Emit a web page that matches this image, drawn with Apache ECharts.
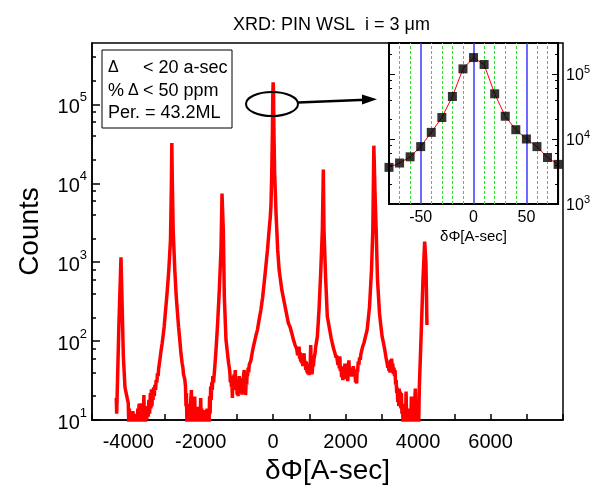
<!DOCTYPE html>
<html>
<head>
<meta charset="utf-8">
<title>XRD: PIN WSL</title>
<script src="https://cdn.jsdelivr.net/npm/echarts@6/dist/echarts.min.js"></script>
<style>
  html, body { margin: 0; padding: 0; background: #fff; }
  #chart { width: 593px; height: 495px; }
</style>
</head>
<body>
<div id="chart"></div>
<script>
// full scan [dPhi, counts]; values under 10 sit below the axis and get clipped
const scan = [
  [-4330, 19], [-4318, 12], [-4260, 147], [-4200, 1150], [-4163, 228], [-4135, 64], [-4090, 26], [-4040, 20],
  [-4000, 16.5], [-3985, 9], [-3970, 14], [-3955, 8], [-3940, 12], [-3925, 8], [-3905, 11], [-3890, 8],
  [-3870, 13], [-3850, 8], [-3830, 10], [-3815, 8], [-3800, 9.5], [-3785, 8], [-3770, 12], [-3750, 8],
  [-3735, 14], [-3720, 9], [-3700, 16], [-3680, 10], [-3665, 16.3], [-3650, 8], [-3632, 12], [-3615, 8],
  [-3600, 14], [-3585, 9], [-3568, 20.7], [-3555, 10], [-3540, 15], [-3522, 9], [-3505, 14], [-3490, 10],
  [-3470, 15], [-3448, 11], [-3430, 18], [-3410, 12], [-3390, 22], [-3375, 14], [-3360, 24.5], [-3345, 15],
  [-3330, 22], [-3315, 18], [-3300, 26], [-3280, 20], [-3265, 28], [-3245, 24], [-3230, 32], [-3210, 30],
  [-3192, 39], [-3175, 36], [-3160, 45], [-3145, 44], [-3128, 57], [-3095, 75], [-3063, 94], [-3030, 125],
  [-3008, 152], [-2975, 230], [-2944, 333], [-2910, 520], [-2880, 800], [-2834, 1900], [-2810, 9000],
  [-2797, 32400], [-2785, 12000], [-2760, 2600], [-2715, 800], [-2680, 400], [-2641, 228], [-2610, 150],
  [-2577, 104], [-2545, 70], [-2512, 52.5], [-2490, 46], [-2475, 38], [-2458, 40], [-2440, 33],
  [-2420, 27], [-2405, 15], [-2394, 22], [-2380, 9], [-2365, 16], [-2347, 8], [-2332, 14], [-2318, 8],
  [-2305, 12], [-2290, 8], [-2275, 18], [-2256, 24], [-2242, 9], [-2230, 15], [-2215, 8], [-2200, 17],
  [-2185, 9], [-2165, 19.8], [-2150, 8], [-2130, 12], [-2115, 8], [-2100, 13], [-2085, 8], [-2072, 14.7],
  [-2055, 8], [-2040, 11], [-2020, 8], [-2000, 19], [-1985, 10], [-1970, 14], [-1950, 8], [-1935, 12],
  [-1915, 8], [-1898, 13.4], [-1880, 8], [-1860, 10], [-1845, 8], [-1825, 14], [-1810, 8], [-1790, 12],
  [-1770, 8], [-1755, 20], [-1740, 12], [-1725, 26.5], [-1710, 18], [-1695, 30], [-1680, 24], [-1665, 36],
  [-1645, 30], [-1620, 42], [-1600, 55], [-1577, 77], [-1532, 170], [-1486, 445], [-1440, 1430],
  [-1412, 7400], [-1376, 2600], [-1348, 370], [-1302, 104], [-1260, 70], [-1229, 52], [-1210, 46],
  [-1195, 40], [-1180, 30], [-1164, 36], [-1150, 26], [-1140, 30], [-1125, 19], [-1110, 34], [-1095, 24],
  [-1080, 38], [-1065, 28], [-1045, 43], [-1030, 26], [-1010, 32], [-995, 21], [-981, 26], [-968, 20],
  [-955, 33], [-945, 24], [-935, 36], [-920, 25], [-900, 32], [-885, 22], [-870, 28], [-861, 21],
  [-845, 34], [-830, 26], [-815, 38], [-798, 43], [-785, 27], [-770, 30], [-760, 20.7], [-745, 32],
  [-730, 28], [-718, 40], [-706, 36], [-690, 46], [-675, 40], [-660, 50], [-640, 48], [-614, 57],
  [-595, 58], [-570, 75], [-550, 72], [-523, 94], [-500, 98], [-480, 115], [-432, 140], [-385, 190],
  [-338, 250], [-290, 360], [-248, 545], [-200, 900], [-157, 1430], [-110, 2600],
  [-80, 3700], [-60, 5300], [-40, 12600], [-20, 45000], [-10, 130000], [0, 190000], [10, 150000],
  [20, 50000], [40, 14000], [60, 7600], [80, 4100], [100, 2600], [125, 1430], [165, 800], [239, 445],
  [330, 274], [421, 168], [470, 150], [514, 126], [560, 104], [605, 89], [650, 80], [675, 66],
  [697, 70], [715, 85], [730, 60], [745, 72], [760, 55], [775, 66], [789, 52], [805, 62],
  [820, 48], [835, 64], [853, 70], [868, 50], [884, 56], [899, 43], [915, 55], [930, 40],
  [945, 52], [960, 38], [975, 46], [990, 37], [1005, 48], [1020, 45], [1037, 89], [1048, 50],
  [1060, 45], [1070, 38], [1082, 42], [1095, 56], [1110, 48], [1128, 60], [1145, 62], [1160, 72],
  [1174, 85], [1200, 100], [1220, 114], [1266, 250], [1312, 730], [1358, 2600],
  [1385, 14900], [1403, 2600], [1450, 600], [1495, 205], [1560, 140], [1600, 110], [1633, 94],
  [1670, 80], [1706, 70], [1735, 62], [1750, 66],
  [1770, 57], [1790, 50], [1810, 60], [1825, 45], [1840, 64], [1855, 42], [1870, 48], [1890, 35],
  [1908, 40], [1925, 32], [1940, 48], [1960, 38], [1981, 52], [1995, 40], [2010, 45], [2025, 33],
  [2045, 38], [2060, 31], [2075, 50], [2091, 57], [2105, 42], [2120, 46], [2135, 36], [2150, 42],
  [2165, 35.5], [2180, 44], [2195, 38], [2212, 48], [2229, 42], [2245, 36], [2260, 40], [2275, 30],
  [2292, 34], [2305, 29], [2318, 44], [2330, 40], [2348, 55], [2366, 50], [2385, 62], [2405, 58],
  [2420, 68], [2440, 70], [2470, 85], [2504, 94], [2550, 115], [2595, 140], [2660, 274], [2715, 800],
  [2751, 2600], [2779, 30000], [2810, 8000], [2843, 2600], [2880, 600], [2935, 226], [2970, 160],
  [3008, 114], [3045, 95], [3082, 77], [3115, 62], [3146, 52],
  [3165, 46], [3180, 55], [3195, 42], [3210, 48], [3225, 40], [3240, 58], [3255, 45], [3270, 60],
  [3283, 48], [3300, 52], [3320, 38], [3335, 46], [3350, 36], [3365, 43], [3380, 28], [3395, 32],
  [3410, 22], [3420, 26], [3440, 17], [3455, 22], [3467, 15], [3480, 25], [3495, 17], [3510, 23],
  [3525, 14], [3540, 22], [3555, 12], [3570, 16], [3585, 9], [3604, 13], [3620, 8], [3640, 15],
  [3655, 9], [3668, 23], [3685, 10], [3700, 14], [3720, 8], [3742, 12], [3760, 8], [3780, 14],
  [3798, 9], [3815, 19.8], [3832, 10], [3850, 14], [3865, 8], [3880, 12], [3895, 8], [3910, 18],
  [3925, 25], [3942, 10], [3960, 14], [3978, 8], [3998, 12], [4015, 8], [4035, 26.5],
  [4090, 140], [4135, 600], [4182, 1830], [4195, 1800], [4218, 970], [4245, 160]
];

// inset: close-up of the central peak
const zoomAngle = [-80, -70, -60, -50, -40, -30, -20, -10, 0, 10, 20, 30, 40, 50, 60, 70, 80];
const zoomCounts = [3660, 4270, 5320, 7640, 12650, 21400, 45100, 120000, 179000, 140000, 49600, 22400, 13900, 10000, 7640, 5190, 4070];
const zoomMarks = [-50, 0, 50];                                        // blue guide lines
const zoomGrid = [-70, -60, -40, -30, -20, -10, 10, 20, 30, 40, 60, 70]; // green guide lines

// tick labels / tick positions
const xTickLabels = [-4000, -2000, 0, 2000, 4000, 6000];
const yDecades = [10, 100, 1000, 10000, 100000];
const yMinor = [20, 40, 60, 80, 200, 400, 600, 800, 2000, 4000, 6000, 8000, 20000, 40000, 60000, 80000, 200000, 400000];
const zoomXLabels = [-50, 0, 50];
const zoomDecades = [1000, 10000, 100000];
const zoomMinor = [2000, 4000, 6000, 8000, 20000, 40000, 60000, 80000, 200000];

const font = 'Liberation Sans, Arial, sans-serif';

function powerLabel(v) {
  return '{b|10}{s|' + Math.round(Math.log10(v)) + '}';
}

// a log axis that only carries ticks (minor ticks)
function tickAxis(grid, min, max, pos, values, len, lineWidth) {
  return {
    gridIndex: grid,
    type: 'log',
    min: min,
    max: max,
    position: pos,
    z: 6,
    axisLine: { show: false, onZero: false },
    axisTick: { show: true, customValues: values, inside: true, length: len, lineStyle: { color: '#000', width: lineWidth } },
    axisLabel: { show: false },
    splitLine: { show: false }
  };
}

let myChart = echarts.init(document.getElementById('chart'));

let guideLines = zoomGrid.map(v => ({
  xAxis: v,
  lineStyle: { color: '#33dd33', width: 1, type: [3, 2] }
})).concat(zoomMarks.map(v => ({
  xAxis: v,
  lineStyle: { color: '#3a3aff', width: 1.5, type: 'solid' }
})));

let option = {
  animation: false,
  backgroundColor: '#fff',
  textStyle: { fontFamily: font, color: '#000' },
  title: {
    text: 'XRD: PIN WSL  i = 3 μm',
    left: 228,
    top: 11,
    textStyle: { fontSize: 18, fontWeight: 'normal', color: '#000', fontFamily: font }
  },
  grid: [
    { left: 92, top: 43, width: 471, height: 377, show: true, borderColor: '#000', borderWidth: 1.5 },
    { left: 389, top: 43, width: 172, height: 161, show: true, z: 5, backgroundColor: '#fff', borderColor: '#000', borderWidth: 2 }
  ],
  xAxis: [
    {
      gridIndex: 0,
      type: 'value',
      min: -5000,
      max: 8000,
      interval: 1000,
      name: 'δΦ[A-sec]',
      nameLocation: 'middle',
      nameGap: 36,
      nameTextStyle: { fontSize: 28, color: '#000', fontFamily: font },
      axisLine: { show: true, onZero: false, lineStyle: { color: '#000', width: 1.5 } },
      axisTick: { show: true, inside: true, length: 6, lineStyle: { color: '#000', width: 1.5 } },
      axisLabel: {
        customValues: xTickLabels,
        formatter: v => String(v),
        fontSize: 20,
        margin: 12,
        color: '#000'
      },
      splitLine: { show: false }
    },
    {
      gridIndex: 1,
      type: 'value',
      min: -80,
      max: 80,
      interval: 10,
      name: 'δΦ[A-sec]',
      nameLocation: 'middle',
      nameGap: 25,
      nameTextStyle: { fontSize: 15, color: '#000', fontFamily: font },
      axisLine: { show: true, onZero: false, lineStyle: { color: '#000', width: 2 } },
      axisTick: { show: false },
      axisLabel: {
        customValues: zoomXLabels,
        formatter: v => String(v),
        fontSize: 16,
        margin: 6,
        color: '#000'
      },
      splitLine: { show: false }
    }
  ],
  yAxis: [
    {
      gridIndex: 0,
      type: 'log',
      logBase: 10,
      min: 10,
      max: 600000,
      position: 'left',
      name: 'Counts',
      nameLocation: 'middle',
      nameGap: 48,
      nameTextStyle: { fontSize: 28, color: '#000', fontFamily: font },
      axisLine: { show: true, onZero: false, lineStyle: { color: '#000', width: 1.5 } },
      axisTick: { show: true, customValues: yDecades, inside: true, length: 8, lineStyle: { color: '#000', width: 1.5 } },
      axisLabel: {
        customValues: yDecades,
        formatter: powerLabel,
        margin: 5,
        rich: {
          b: { fontSize: 20, lineHeight: 26, verticalAlign: 'bottom', color: '#000', fontFamily: font },
          s: { fontSize: 13, lineHeight: 14, verticalAlign: 'top', color: '#000', fontFamily: font }
        }
      },
      splitLine: { show: false }
    },
    tickAxis(0, 10, 600000, 'left', yMinor, 4, 1.5),
    {
      gridIndex: 1,
      type: 'log',
      min: 1000,
      max: 300000,
      position: 'left',
      z: 6,
      axisLine: { show: true, onZero: false, lineStyle: { color: '#000', width: 2 } },
      axisTick: { show: true, customValues: zoomDecades, inside: true, length: 6, lineStyle: { color: '#000', width: 1 } },
      axisLabel: { show: false },
      splitLine: { show: false }
    },
    tickAxis(1, 1000, 300000, 'left', zoomMinor, 3, 1),
    {
      gridIndex: 1,
      type: 'log',
      min: 1000,
      max: 300000,
      position: 'right',
      z: 6,
      axisLine: { show: true, onZero: false, lineStyle: { color: '#000', width: 2 } },
      axisTick: { show: true, customValues: zoomDecades, inside: true, length: 6, lineStyle: { color: '#000', width: 1 } },
      axisLabel: {
        customValues: zoomDecades,
        formatter: powerLabel,
        margin: 8,
        rich: {
          b: { fontSize: 16, lineHeight: 20, verticalAlign: 'bottom', color: '#000', fontFamily: font },
          s: { fontSize: 11, lineHeight: 11, verticalAlign: 'top', color: '#000', fontFamily: font }
        }
      },
      splitLine: { show: false }
    },
    tickAxis(1, 1000, 300000, 'right', zoomMinor, 3, 1)
  ],
  series: [
    {
      type: 'line',
      xAxisIndex: 0,
      yAxisIndex: 0,
      showSymbol: false,
      clip: true,
      lineStyle: { color: '#ff0000', width: 3.5 },
      data: scan
    },
    {
      type: 'line',
      xAxisIndex: 1,
      yAxisIndex: 2,
      showSymbol: false,
      clip: true,
      z: 6,
      lineStyle: { color: '#ff0000', width: 1 },
      data: zoomAngle.map((x, i) => [x, zoomCounts[i]]),
      markLine: {
        silent: true,
        symbol: ['none', 'none'],
        label: { show: false },
        data: guideLines
      }
    },
    {
      type: 'scatter',
      xAxisIndex: 1,
      yAxisIndex: 2,
      symbol: 'rect',
      symbolSize: 9,
      z: 7,
      itemStyle: { color: '#000' },
      data: zoomAngle.map((x, i) => [x, zoomCounts[i]])
    }
  ],
  graphic: [
    { type: 'rect', z: 10, shape: { x: 102, y: 50, width: 130, height: 78 }, style: { fill: '#fff', stroke: '#000', lineWidth: 1 } },
    { type: 'text', z: 11, x: 108, y: 68, style: { text: 'Δ', fontSize: 16, fontFamily: font, fill: '#000', verticalAlign: 'middle' } },
    { type: 'text', z: 11, x: 143, y: 68, style: { text: '< 20 a-sec', fontSize: 18, fontFamily: font, fill: '#000', verticalAlign: 'middle' } },
    { type: 'text', z: 11, x: 108, y: 91, style: { text: '%', fontSize: 18, fontFamily: font, fill: '#000', verticalAlign: 'middle' } },
    { type: 'text', z: 11, x: 128, y: 91, style: { text: 'Δ', fontSize: 16, fontFamily: font, fill: '#000', verticalAlign: 'middle' } },
    { type: 'text', z: 11, x: 143, y: 91, style: { text: '< 50 ppm', fontSize: 18, fontFamily: font, fill: '#000', verticalAlign: 'middle' } },
    { type: 'text', z: 11, x: 108, y: 113, style: { text: 'Per. = 43.2ML', fontSize: 18, fontFamily: font, fill: '#000', verticalAlign: 'middle' } },
    { type: 'ellipse', z: 11, shape: { cx: 272, cy: 104, rx: 26, ry: 12 }, style: { fill: 'none', stroke: '#000', lineWidth: 2 } },
    { type: 'line', z: 11, shape: { x1: 298, y1: 102.5, x2: 366, y2: 99.8 }, style: { stroke: '#000', lineWidth: 2.5 } },
    { type: 'polygon', z: 11, shape: { points: [[377, 99.3], [362, 94.5], [362, 104.5]] }, style: { fill: '#000' } }
  ]
};

myChart.setOption(option);
</script>
</body>
</html>
